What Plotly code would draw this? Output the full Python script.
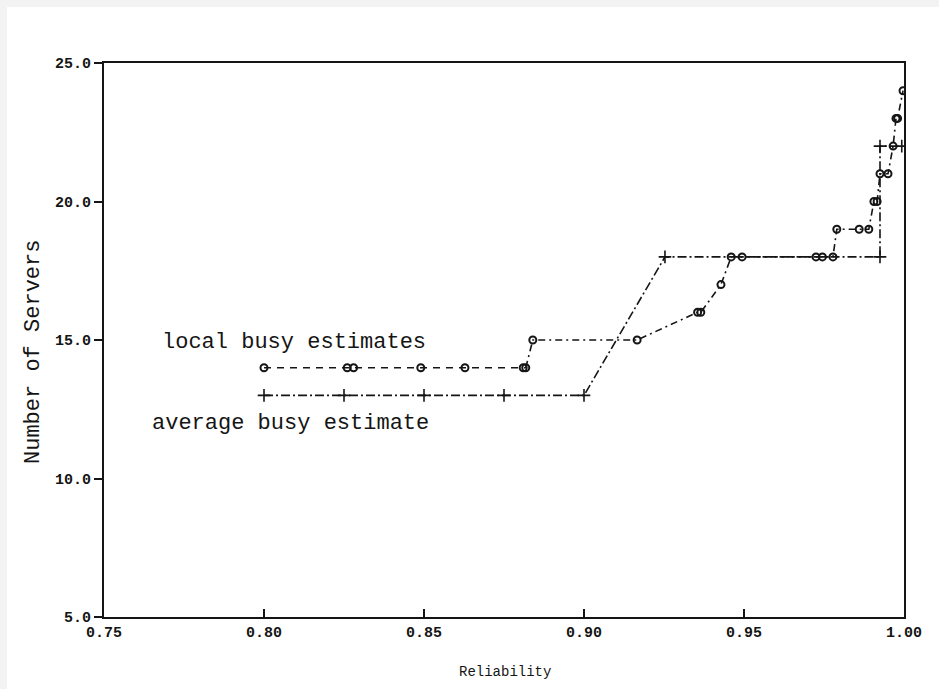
import plotly.graph_objects as go

# Local busy estimates (open circles)
local_x = [0.800, 0.826, 0.828, 0.849, 0.8628, 0.8810, 0.8818, 0.884, 0.9166,
           0.9355, 0.9365, 0.9428, 0.946, 0.9494, 0.9725, 0.9745, 0.9778, 0.979,
           0.986, 0.989, 0.9906, 0.9916, 0.9925, 0.995, 0.9966, 0.9975, 0.998, 0.9997]
local_y = [14, 14, 14, 14, 14, 14, 14, 15, 15,
           16, 16, 17, 18, 18, 18, 18, 18, 19,
           19, 19, 20, 20, 21, 21, 22, 23, 23, 24]
split_idx = 6  # dashed part ends here, dash-dot afterwards

# Average busy estimate (plus markers)
avg_x = [0.800, 0.825, 0.850, 0.875, 0.900, 0.9253, 0.9925, 0.9925, 0.9993]
avg_y = [13, 13, 13, 13, 13, 18, 18, 22, 22]

x_ticks = [0.75, 0.80, 0.85, 0.90, 0.95, 1.00]
x_tick_labels = ["0.75", "0.80", "0.85", "0.90", "0.95", "1.00"]
y_ticks = [5, 10, 15, 20, 25]
y_tick_labels = ["5.0", "10.0", "15.0", "20.0", "25.0"]

INK = "#151515"
MONO = "Liberation Mono, DejaVu Sans Mono, monospace"

fig = go.Figure()

fig.add_trace(go.Scatter(
    x=avg_x, y=avg_y, mode="lines+markers",
    line=dict(color=INK, width=1.6, dash="9px,3px,2px,3px"),
    marker=dict(symbol="cross-thin", size=9, line=dict(color=INK, width=1.6)),
    showlegend=False, hoverinfo="x+y"))

fig.add_trace(go.Scatter(
    x=local_x[:split_idx + 1], y=local_y[:split_idx + 1], mode="lines",
    line=dict(color=INK, width=1.6, dash="7px,6px"),
    showlegend=False, hoverinfo="skip"))

fig.add_trace(go.Scatter(
    x=local_x[split_idx:], y=local_y[split_idx:], mode="lines",
    line=dict(color=INK, width=1.6, dash="7px,4px,2px,4px"),
    showlegend=False, hoverinfo="skip"))

fig.add_trace(go.Scatter(
    x=local_x, y=local_y, mode="markers",
    marker=dict(symbol="circle-open", size=7, color=INK, line=dict(color=INK, width=2)),
    showlegend=False, hoverinfo="x+y"))

fig.add_annotation(x=0.7675, y=14.9, xref="x", yref="y", text="local busy estimates",
                   showarrow=False, xanchor="left", yanchor="middle",
                   font=dict(family=MONO, size=22, color=INK))
fig.add_annotation(x=0.7644, y=11.97, xref="x", yref="y", text="average busy estimate",
                   showarrow=False, xanchor="left", yanchor="middle",
                   font=dict(family=MONO, size=22, color=INK))

# axis titles
fig.add_annotation(x=(505 - 104) / 800, y=(617 - 672) / 554, xref="paper", yref="paper",
                   text="Reliability", showarrow=False, xanchor="center", yanchor="middle",
                   font=dict(family=MONO, size=14, color=INK))
fig.add_annotation(x=(33 - 104) / 800, y=(617 - 352) / 554, xref="paper", yref="paper",
                   text="Number of Servers", showarrow=False, textangle=-90,
                   xanchor="center", yanchor="middle",
                   font=dict(family=MONO, size=22, color=INK))

# page background: light grey strip at top/left, white sheet
fig.add_shape(type="rect", xref="paper", yref="paper",
              x0=-97 / 800, x1=1.06, y0=-0.14, y1=(617 - 7) / 554,
              fillcolor="white", line=dict(width=0), layer="below")

fig.update_layout(
    width=939, height=689,
    margin=dict(l=104, r=35, t=63, b=72),
    paper_bgcolor="#f3f3f3",
    plot_bgcolor="white",
    font=dict(family=MONO, color=INK),
    xaxis=dict(
        range=[0.75, 1.0], tickvals=x_ticks, ticktext=x_tick_labels,
        showline=True, linewidth=2, linecolor=INK, mirror=True,
        ticks="inside", ticklen=8, tickwidth=1.5, tickcolor=INK,
        showgrid=False, zeroline=False,
        tickfont=dict(family=MONO, size=15, color=INK, weight="bold"),
    ),
    yaxis=dict(
        range=[5, 25], tickvals=y_ticks, ticktext=y_tick_labels,
        showline=True, linewidth=2, linecolor=INK, mirror=True,
        ticks="outside", ticklen=8, tickwidth=1.5, tickcolor=INK,
        showgrid=False, zeroline=False,
        tickfont=dict(family=MONO, size=15, color=INK, weight="bold"),
    ),
)

fig.write_html("out.html")
